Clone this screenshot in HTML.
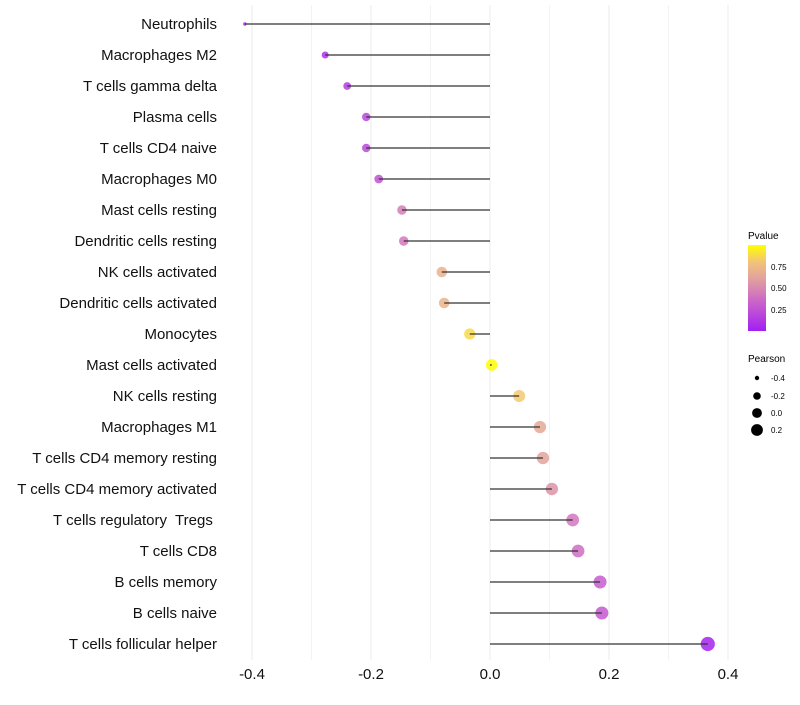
<!DOCTYPE html>
<html><head><meta charset="utf-8"><style>
body{margin:0;background:#fff;font-family:"Liberation Sans",sans-serif}
</style></head><body>
<svg id="chart" width="800" height="700" xmlns="http://www.w3.org/2000/svg">
<defs><linearGradient id="pg" x1="0" y1="1" x2="0" y2="0">
<stop offset="0" stop-color="#a31ff2"/><stop offset="0.35" stop-color="#cc66c8"/><stop offset="0.6" stop-color="#e0a0a0"/><stop offset="0.8" stop-color="#f3c27a"/><stop offset="1" stop-color="#ffff00"/>
</linearGradient></defs>
<g id="grid"></g><g id="marks"></g><g id="labels"></g>
<g>
<text x="748" y="239" font-size="10">Pvalue</text>
<rect x="748" y="245" width="18" height="86" fill="url(#pg)"/>
<text x="771" y="270" font-size="8">0.75</text>
<text x="771" y="291" font-size="8">0.50</text>
<text x="771" y="313" font-size="8">0.25</text>
</g>
<g>
<text x="748" y="362" font-size="10">Pearson</text>
<circle cx="757" cy="378" r="2.2"/><text x="771" y="381" font-size="8">-0.4</text>
<circle cx="757" cy="396" r="3.8"/><text x="771" y="399" font-size="8">-0.2</text>
<circle cx="757" cy="413" r="4.9"/><text x="771" y="416" font-size="8">0.0</text>
<circle cx="757" cy="430" r="5.9"/><text x="771" y="433" font-size="8">0.2</text>
</g>
</svg>
<script>
const cells=["Neutrophils","Macrophages M2","T cells gamma delta","Plasma cells","T cells CD4 naive","Macrophages M0","Mast cells resting","Dendritic cells resting","NK cells activated","Dendritic cells activated","Monocytes","Mast cells activated","NK cells resting","Macrophages M1","T cells CD4 memory resting","T cells CD4 memory activated","T cells regulatory  Tregs ","T cells CD8","B cells memory","B cells naive","T cells follicular helper"];
const pearson=[-0.412,-0.277,-0.240,-0.208,-0.208,-0.187,-0.148,-0.145,-0.081,-0.077,-0.034,0.003,0.049,0.084,0.089,0.104,0.139,0.148,0.185,0.188,0.366];
const pvalue=[0.05,0.1,0.15,0.2,0.2,0.25,0.45,0.42,0.7,0.72,0.88,0.99,0.82,0.65,0.62,0.55,0.42,0.38,0.3,0.28,0.02];
const ticks=[-0.4,-0.2,0.0,0.2,0.4];
const NS="http://www.w3.org/2000/svg";
const x=v=>490+v*595, y=i=>24+i*31, r=v=>Math.sqrt(Math.max(v<0?34+78*v:34+45*v,3));
const stops=[[0,[163,31,242]],[0.35,[204,102,200]],[0.6,[224,160,160]],[0.8,[243,194,122]],[1,[255,255,0]]];
function col(p){for(let k=1;k<stops.length;k++){if(p<=stops[k][0]){const a=stops[k-1],b=stops[k],t=(p-a[0])/(b[0]-a[0]);return "rgb("+a[1].map((c,j)=>Math.round(c+(b[1][j]-c)*t)).join(",")+")";}}return "rgb(255,255,0)";}
function mk(t,at,parent){const e=document.createElementNS(NS,t);for(const k in at)e.setAttribute(k,at[k]);document.getElementById(parent).appendChild(e);return e;}
for(let v=-0.4;v<=0.41;v+=0.1){const g=mk("line",{x1:x(v),x2:x(v),y1:5,y2:660,stroke:"#ebebeb","stroke-width":Math.abs(Math.round(v*10))%2===0?1:0.6},"grid");

}
ticks.forEach(t=>{const e=mk("text",{x:x(t),y:679,"font-size":15,"text-anchor":"middle",fill:"#111"},"labels");e.textContent=t.toFixed(1);

});
cells.forEach((c,i)=>{
const d=mk("circle",{cx:x(pearson[i]),cy:y(i),r:r(pearson[i]),fill:col(pvalue[i]),"fill-opacity":0.85},"marks");


const l=mk("line",{x1:x(0),x2:x(pearson[i]),y1:y(i),y2:y(i),stroke:"#333","stroke-width":1.3},"marks");


const t=mk("text",{x:217,y:y(i)+5,"font-size":15,"text-anchor":"end",fill:"#111",style:"white-space:pre"},"labels");t.textContent=c;


});
</script>
</body></html>
